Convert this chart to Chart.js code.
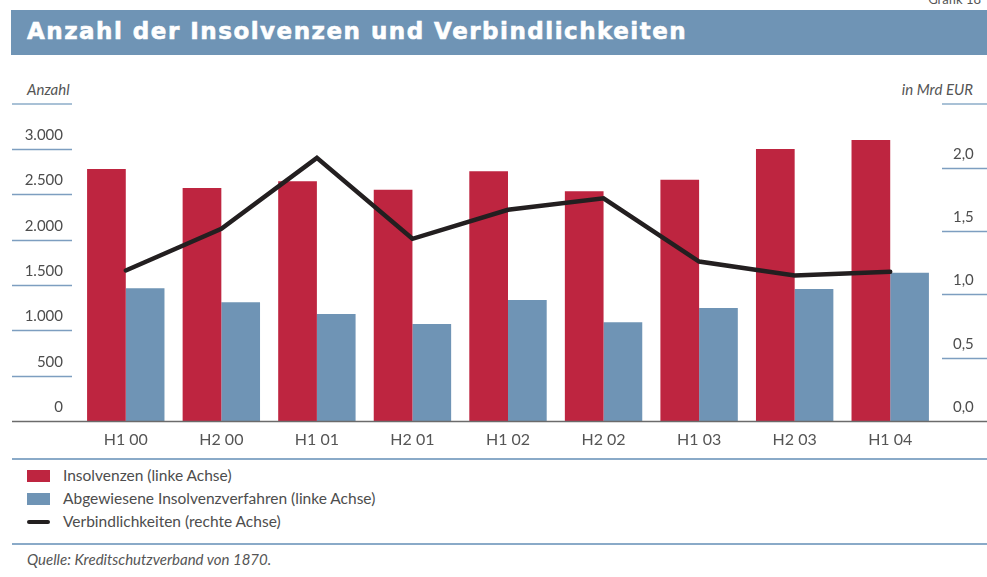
<!DOCTYPE html>
<html lang="de">
<head>
<meta charset="utf-8">
<script src="https://cdn.jsdelivr.net/npm/chart.js@4"></script>
<style>
  html, body { margin: 0; padding: 0; background: #fff; }
  body { width: 987px; height: 577px; position: relative; overflow: hidden; font-family: Lato, "Open Sans", sans-serif; color: #4d4d4d; }
  .grafik { position: absolute; right: 6px; top: -9px; font-size: 13px; color: #555; }
  .header { position: absolute; left: 11px; top: 10px; width: 976px; height: 45px; background: #6f94b5; }
  .header span { position: absolute; left: 16px; top: 8px; font-family: "DejaVu Sans", sans-serif; font-weight: bold; font-size: 23px; letter-spacing: 1.5px; color: #fff; white-space: nowrap; -webkit-text-stroke: 0.6px #fff; }
  .unit { position: absolute; top: 80px; font-size: 15px; font-style: italic; color: #555; }
  .uline { position: absolute; height: 2px; background: #a9c1d6; top: 103px; }
  #wrap { position: absolute; left: 0; top: 105px; width: 987px; height: 346px; }
  .sep { position: absolute; left: 12px; width: 975px; height: 1.5px; background: #8aaac8; }
  .legend { position: absolute; left: 27px; top: 464px; font-size: 15.5px; color: #4d4d4d; }
  .legend div { height: 23px; line-height: 23px; position: relative; padding-left: 36px; white-space: nowrap; }
  .legend i { position: absolute; left: 0; top: 6px; width: 23px; height: 12px; }
  .legend i.ln { top: 10px; height: 4px; border-radius: 2px; background: #231f20; }
  .source { position: absolute; left: 27px; top: 550px; font-size: 15px; font-style: italic; color: #555; }
</style>
</head>
<body>
<div class="grafik">Grafik 18</div>
<div class="header"><span>Anzahl der Insolvenzen und Verbindlichkeiten</span></div>
<div class="unit" style="left:27px">Anzahl</div>
<div class="uline" style="left:12px;width:60px"></div>
<div class="unit" style="right:14px">in Mrd EUR</div>
<div class="uline" style="left:942px;width:45px"></div>

<div id="wrap"><canvas id="chart" width="987" height="346"></canvas></div>

<div class="sep" style="top:458px"></div>
<div class="legend">
  <div><i style="background:#be2540"></i>Insolvenzen (linke Achse)</div>
  <div><i style="background:#6f94b5"></i>Abgewiesene Insolvenzverfahren (linke Achse)</div>
  <div><i class="ln"></i>Verbindlichkeiten (rechte Achse)</div>
</div>
<div class="sep" style="top:543px"></div>
<div class="source">Quelle: Kreditschutzverband von 1870.</div>

<script>
const labels = ['H1 00', 'H2 00', 'H1 01', 'H2 01', 'H1 02', 'H2 02', 'H1 03', 'H2 03', 'H1 04'];
const insolvenzen = [2780, 2570, 2645, 2550, 2755, 2535, 2660, 3000, 3100];
const abgewiesen = [1465, 1310, 1180, 1070, 1335, 1090, 1245, 1455, 1635];
const verbindlichkeiten = [1.19, 1.52, 2.08, 1.44, 1.67, 1.76, 1.26, 1.15, 1.18];

const leftTicks = [0, 500, 1000, 1500, 2000, 2500, 3000];
const rightTicks = [0, 0.5, 1.0, 1.5, 2.0];

// short blue lines under the tick labels + dark baseline
const tickLines = {
    id: 'tickLines',
    afterDatasetsDraw(chart) {
        const ctx = chart.ctx;
        const y = chart.scales.y, y1 = chart.scales.y1;
        ctx.save();
        ctx.lineWidth = 1.5;
        ctx.strokeStyle = '#7d9ec0';
        y.ticks.forEach(t => {
            if (t.value === 0) return;
            const py = Math.round(y.getPixelForValue(t.value)) + 0.5;
            ctx.beginPath(); ctx.moveTo(12, py); ctx.lineTo(72, py); ctx.stroke();
        });
        y1.ticks.forEach(t => {
            if (t.value === 0) return;
            const py = Math.round(y1.getPixelForValue(t.value)) + 0.5;
            ctx.beginPath(); ctx.moveTo(942, py); ctx.lineTo(987, py); ctx.stroke();
        });
        ctx.strokeStyle = '#6b6b6b';
        const p0 = Math.round(y.getPixelForValue(0)) + 0.5;
        ctx.beginPath(); ctx.moveTo(12, p0); ctx.lineTo(987, p0); ctx.stroke();
        ctx.restore();
    }
};

const tickFont = { family: 'Lato', size: 15 };

new Chart(document.getElementById('chart').getContext('2d'), {
    data: {
        labels: labels,
        datasets: [
            {
                type: 'line',
                label: 'Verbindlichkeiten (rechte Achse)',
                data: verbindlichkeiten,
                yAxisID: 'y1',
                borderColor: '#231f20',
                borderWidth: 4.5,
                pointRadius: 0,
                tension: 0,
                borderJoinStyle: 'miter',
                borderCapStyle: 'round',
                order: 0,
            },
            {
                type: 'bar',
                label: 'Insolvenzen (linke Achse)',
                data: insolvenzen,
                yAxisID: 'y',
                backgroundColor: '#be2540',
                categoryPercentage: 0.81,
                barPercentage: 1.0,
                clip: false,
                order: 1,
            },
            {
                type: 'bar',
                label: 'Abgewiesene Insolvenzverfahren (linke Achse)',
                data: abgewiesen,
                yAxisID: 'y',
                backgroundColor: '#6f94b5',
                categoryPercentage: 0.81,
                barPercentage: 1.0,
                clip: false,
                order: 1,
            },
        ]
    },
    options: {
        responsive: false,
        animation: false,
        layout: { padding: { top: 44, left: 0, right: 0, bottom: 0 } },
        plugins: { legend: { display: false }, tooltip: { enabled: false } },
        scales: {
            x: {
                grid: { display: false, drawTicks: false },
                border: { display: false },
                ticks: { font: { family: 'Lato', size: 16 }, color: '#555', padding: 9 },
                afterFit: s => { s.height = 30; },
            },
            y: {
                position: 'left',
                min: 0, max: 3000,
                afterBuildTicks: s => { s.ticks = leftTicks.map(v => ({ value: v })); },
                grid: { display: false, drawTicks: false },
                border: { display: false },
                ticks: {
                    font: tickFont, color: '#4d4d4d', padding: 15, labelOffset: -14,
                    callback: v => String(v).replace(/\B(?=(\d{3})+(?!\d))/g, '.'),
                },
                afterFit: s => { s.width = 78; },
            },
            y1: {
                position: 'right',
                min: 0, max: 2.15,
                afterBuildTicks: s => { s.ticks = rightTicks.map(v => ({ value: v })); },
                grid: { display: false, drawTicks: false },
                border: { display: false },
                ticks: {
                    font: tickFont, color: '#4d4d4d', padding: 15, labelOffset: -14,
                    callback: v => v.toFixed(1).replace('.', ','),
                },
                afterFit: s => { s.width = 49; },
            },
        }
    },
    plugins: [tickLines]
});
</script>
</body>
</html>
